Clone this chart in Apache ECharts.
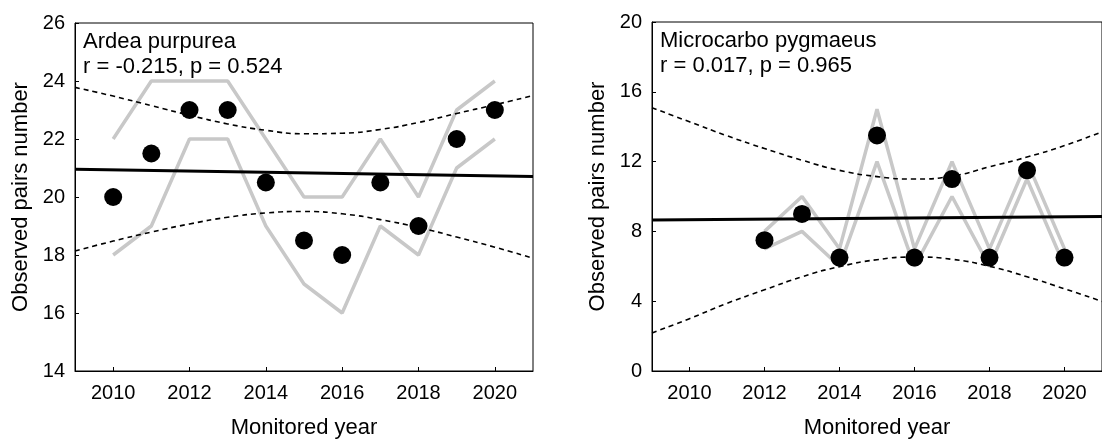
<!DOCTYPE html>
<html>
<head>
<meta charset="utf-8">
<script src="https://cdn.jsdelivr.net/npm/echarts@6/dist/echarts.min.js"></script>
<style>
  html, body { margin: 0; padding: 0; background: #ffffff; }
  #chart { width: 1102px; height: 444px; }
</style>
</head>
<body>
<div id="chart"></div>
<script>
// Monitoring years and the extent of the fitted lines
const years = [2010, 2011, 2012, 2013, 2014, 2015, 2016, 2017, 2018, 2019, 2020];
const fitYears = [2009, 2010, 2011, 2012, 2013, 2014, 2015, 2016, 2017, 2018, 2019, 2020, 2021];
const xTickValues = [2010, 2012, 2014, 2016, 2018, 2020];
const xTickLabels = ['2010', '2012', '2014', '2016', '2018', '2020'];

// Ardea purpurea
const ardeaObserved = [20, 21.5, 23, 23, 20.5, 18.5, 18, 20.5, 19, 22, 23];
const ardeaRangeHigh = [22, 24, 24, 24, 22, 20, 20, 22, 20, 23, 24];
const ardeaRangeLow = [18, 19, 22, 22, 19, 17, 16, 19, 18, 21, 22];
const ardeaTrend = [20.96, 20.71];            // at 2009 and 2021
const ardeaBandHigh = [23.78, 23.48, 23.15, 22.82, 22.52, 22.30, 22.18, 22.20, 22.33, 22.57, 22.88, 23.18, 23.50];
const ardeaBandLow = [18.14, 18.48, 18.79, 19.07, 19.30, 19.45, 19.50, 19.42, 19.22, 18.95, 18.62, 18.27, 17.89];
const ardeaTitle = 'Ardea purpurea';
const ardeaStats = 'r = -0.215, p = 0.524';

// Microcarbo pygmaeus
const microYears = [2012, 2013, 2014, 2015, 2016, 2017, 2018, 2019, 2020];
const microObserved = [7.5, 9, 6.5, 13.5, 6.5, 11, 6.5, 11.5, 6.5];
const microRangeHigh = [8, 10, 7, 15, 7, 12, 7, 12, 7];
const microRangeLow = [7, 8, 6, 12, 6, 10, 6, 11, 6];
const microTrend = [8.65, 8.85];              // at 2009 and 2021
const microBandHigh = [15.09, 14.28, 13.48, 12.75, 12.08, 11.50, 11.14, 11.00, 11.17, 11.70, 12.26, 12.92, 13.71];
const microBandLow = [2.18, 3.00, 3.88, 4.65, 5.40, 5.98, 6.38, 6.53, 6.40, 6.00, 5.40, 4.71, 3.99];
const microTitle = 'Microcarbo pygmaeus';
const microStats = 'r = 0.017, p = 0.965';

const yLabel = 'Observed pairs number';
const xLabel = 'Monitored year';

const FONT = '"Liberation Sans", Arial, sans-serif';
const pairs = (xs, ys) => xs.map((x, i) => [x, ys[i]]);

const grids = [
  { left: 75, top: 23, width: 458, height: 356 },
  { left: 652, top: 22, width: 457, height: 357 }
];

function xAxisFor(gridIndex) {
  return {
    type: 'value', gridIndex, min: 2009, max: 2021,
    name: xLabel, nameLocation: 'middle', nameGap: 46,
    nameTextStyle: { fontFamily: FONT, fontSize: 22, color: '#000' },
    axisLine: { show: true, lineStyle: { color: '#000', width: 1 } },
    axisTick: { show: true, inside: true, length: 4, customValues: xTickValues, lineStyle: { color: '#000' } },
    axisLabel: {
      fontFamily: FONT, fontSize: 20, color: '#000', margin: 12,
      customValues: xTickValues,
      formatter: v => xTickLabels[xTickValues.indexOf(v)]
    },
    splitLine: { show: false }
  };
}

function yAxisFor(gridIndex, min, max, interval) {
  return {
    type: 'value', gridIndex, min, max, interval,
    name: yLabel, nameLocation: 'middle', nameGap: 43, nameRotate: 90,
    nameTextStyle: { fontFamily: FONT, fontSize: 22, color: '#000' },
    axisLine: { show: true, lineStyle: { color: '#000', width: 1 } },
    axisTick: { show: true, inside: true, length: 4, lineStyle: { color: '#000' } },
    axisLabel: { fontFamily: FONT, fontSize: 20, color: '#000', margin: 10 },
    splitLine: { show: false }
  };
}

function panelSeries(idx, xs, obs, hi, lo, trend, bandHi, bandLo) {
  const grey = { color: '#c8c8c8', width: 3.5 };
  const dash = { color: '#000', width: 1.6, type: [5, 4] };
  return [
    { type: 'line', xAxisIndex: idx, yAxisIndex: idx, data: pairs(xs, hi), symbol: 'none', lineStyle: grey, z: 2 },
    { type: 'line', xAxisIndex: idx, yAxisIndex: idx, data: pairs(xs, lo), symbol: 'none', lineStyle: grey, z: 2 },
    { type: 'line', xAxisIndex: idx, yAxisIndex: idx, data: pairs(fitYears, bandHi), symbol: 'none', smooth: true, lineStyle: dash, z: 3 },
    { type: 'line', xAxisIndex: idx, yAxisIndex: idx, data: pairs(fitYears, bandLo), symbol: 'none', smooth: true, lineStyle: dash, z: 3 },
    { type: 'line', xAxisIndex: idx, yAxisIndex: idx, data: pairs([2009, 2021], trend), symbol: 'none', lineStyle: { color: '#000', width: 3 }, z: 4 },
    { type: 'scatter', xAxisIndex: idx, yAxisIndex: idx, data: pairs(xs, obs), symbol: 'circle', symbolSize: 18, itemStyle: { color: '#000', opacity: 1 }, z: 5 }
  ];
}

function label(x, y, text) {
  return {
    type: 'text', x, y, z: 10,
    style: { text, font: '22px ' + FONT, fill: '#000', verticalAlign: 'middle', align: 'left' }
  };
}

const chart = echarts.init(document.getElementById('chart'), null, { renderer: 'canvas' });
chart.setOption({
  animation: false,
  backgroundColor: '#ffffff',
  grid: grids.map(g => Object.assign({ show: true, borderColor: '#000', borderWidth: 1, backgroundColor: 'transparent' }, g)),
  xAxis: [xAxisFor(0), xAxisFor(1)],
  yAxis: [yAxisFor(0, 14, 26, 2), yAxisFor(1, 0, 20, 4)],
  series: [
    ...panelSeries(0, years, ardeaObserved, ardeaRangeHigh, ardeaRangeLow, ardeaTrend, ardeaBandHigh, ardeaBandLow),
    ...panelSeries(1, microYears, microObserved, microRangeHigh, microRangeLow, microTrend, microBandHigh, microBandLow)
  ],
  graphic: [
    label(83, 42, ardeaTitle),
    label(83, 67, ardeaStats),
    label(660, 41, microTitle),
    label(660, 66, microStats)
  ]
});
</script>
</body>
</html>
